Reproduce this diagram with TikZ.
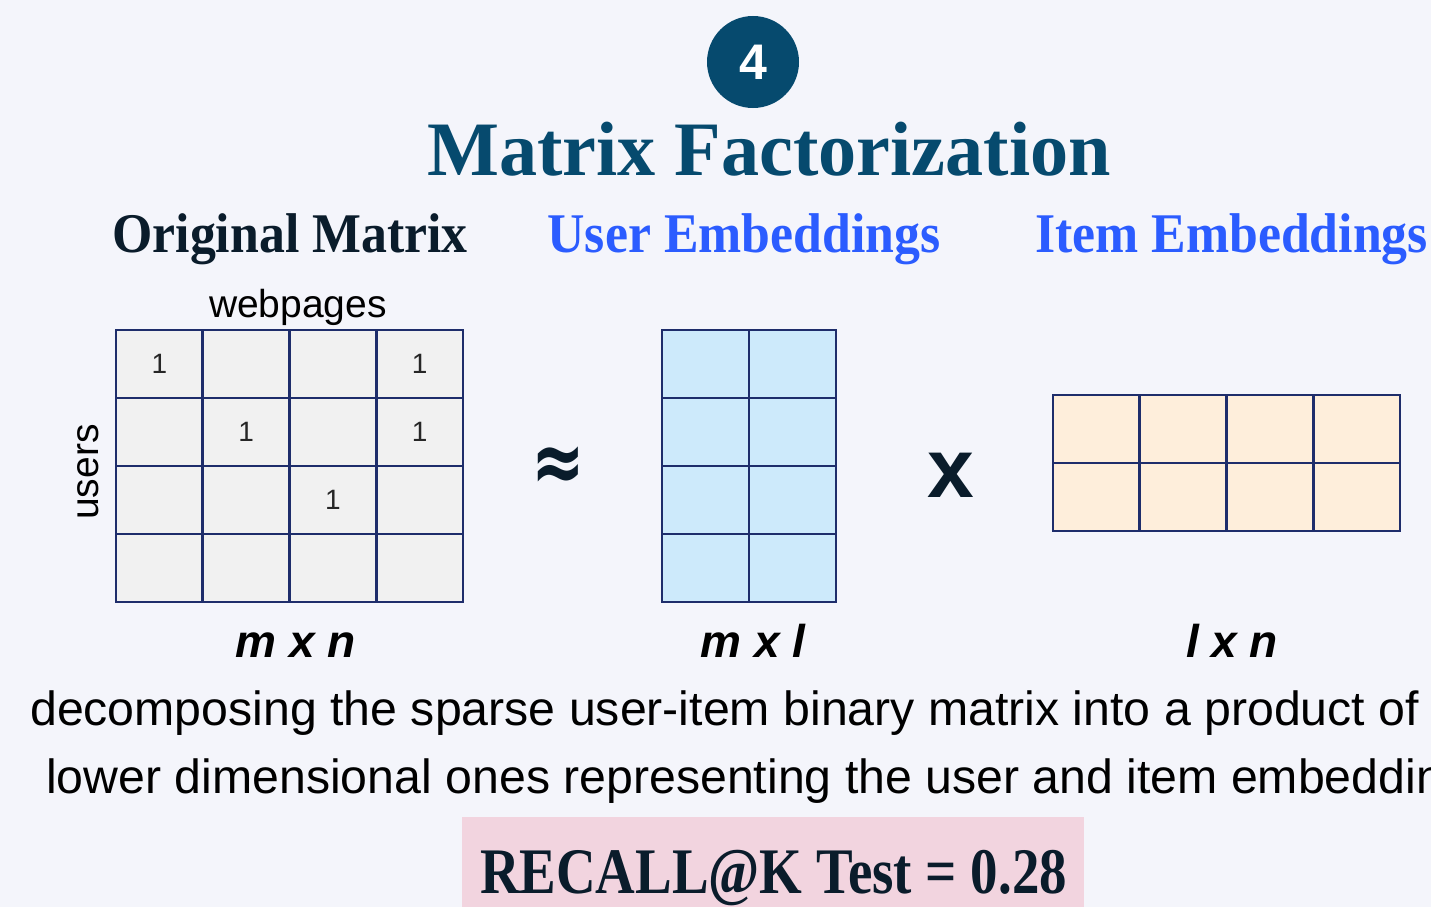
\documentclass[tikz,border=0pt]{standalone}
\usepackage{fontspec}
\setmainfont{Liberation Serif}
\setsansfont{Liberation Sans}
\newfontfamily\symfont{DejaVu Sans}
\definecolor{bgc}{HTML}{F4F5FB}
\definecolor{teal}{HTML}{064A6E}
\definecolor{ink}{HTML}{0A1C2B}
\definecolor{hblue}{HTML}{2B5CFF}
\definecolor{gridc}{HTML}{1E2D6B}
\definecolor{grayf}{HTML}{F1F1F1}
\definecolor{bluef}{HTML}{CDEAFB}
\definecolor{peachf}{HTML}{FEEEDB}
\definecolor{pinkf}{HTML}{F2D4DF}
\tikzset{
  cell/.style={draw=gridc, line width=2.8pt},
  heading/.style={anchor=base, inner sep=0pt, font=\bfseries\fontsize{56}{56}\selectfont\addfontfeature{FakeStretch=0.925}},
  dimlab/.style={anchor=base, inner sep=0pt, text=black, font=\sffamily\bfseries\itshape\fontsize{46}{46}\selectfont},
  one/.style={inner sep=0pt, text=black!85, font=\sffamily\fontsize{28}{28}\selectfont},
  desc/.style={anchor=base west, inner sep=0pt, text=black, font=\sffamily\fontsize{48}{48}\selectfont\addfontfeature{FakeStretch=1.005}},
}
\begin{document}
\begin{tikzpicture}[x=1pt,y=-1pt]
\useasboundingbox (0,0) rectangle (1431,907);
\fill[bgc] (0,0) rectangle (1431,907);
\begin{scope}
\clip (0,0) rectangle (1431,907);
% badge
\node[circle, fill=teal, minimum size=92pt, inner sep=0pt] (badge) at (753,62) {};
\node[text=white, inner sep=0pt, font=\sffamily\bfseries\fontsize{50}{50}\selectfont] (four) at (badge) {4};
% title
\node[anchor=base, inner sep=0pt, text=teal, font=\bfseries\fontsize{77}{77}\selectfont\addfontfeature{FakeStretch=0.99}] (title) at (769,175) {Matrix Factorization};
% headings
\node[heading, text=ink] (h1) at (290,252) {Original Matrix};
\node[heading, text=hblue] (h2) at (744,252) {User Embeddings};
\node[heading, text=hblue, anchor=base west] (h3) at (1035,252) {Item Embeddings};
% original matrix
\foreach \i in {0,...,3}{\foreach \j in {0,...,3}{
  \draw[cell, fill=grayf] ({116+\i*86.75},{330+\j*68}) rectangle ++(86.75,68);
}}
\node[anchor=base, inner sep=0pt, text=black, font=\sffamily\fontsize{39}{39}\selectfont] (web) at (298,317) {webpages};
\node[anchor=base, rotate=90, inner sep=0pt, text=black, font=\sffamily\fontsize{39}{39}\selectfont] (users) at (98,472) {users};
\node[one] (o11) at (159.4,364) {1};
\node[one] (o14) at (419.6,364) {1};
\node[one] (o22) at (246.1,432) {1};
\node[one] (o24) at (419.6,432) {1};
\node[one] (o33) at (332.9,500) {1};
% approx
\node[inner sep=0pt, text=ink, font=\symfont\bfseries\fontsize{64}{64}\selectfont] (approx) at (558,469) {\scalebox{1}[1.35]{≈}};
% user embeddings
\foreach \i in {0,1}{\foreach \j in {0,...,3}{
  \draw[cell, fill=bluef] ({662+\i*87},{330+\j*68}) rectangle ++(87,68);
}}
% times
\node[anchor=base, inner sep=0pt, text=ink, font=\sffamily\bfseries\fontsize{84}{84}\selectfont] (times) at (951,497) {x};
% item embeddings
\foreach \i in {0,...,3}{\foreach \j in {0,1}{
  \draw[cell, fill=peachf] ({1053+\i*86.75},{395+\j*68}) rectangle ++(86.75,68);
}}
% dims
\node[dimlab] (d1) at (296,657) {m x n};
\node[dimlab] (d2) at (753,657) {m x l};
\node[dimlab] (d3) at (1232,657) {l x n};
% description
\node[desc] (desc1) at (30,725) {decomposing the sparse user-item binary matrix into a product of};
\node[desc] (desc2) at (46,793) {lower dimensional ones representing the user and item embeddings};
% recall
\fill[pinkf] (462,817) rectangle (1084,907);
\node[anchor=base, inner sep=0pt, text=ink, font=\bfseries\fontsize{65}{65}\selectfont\addfontfeature{FakeStretch=0.845}] (recall) at (773.5,893) {RECALL@K Test = 0.28};
\end{scope}
\end{tikzpicture}
\end{document}
